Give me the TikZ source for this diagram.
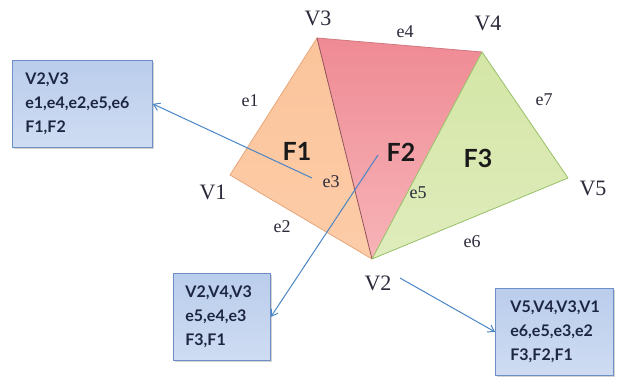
\documentclass[tikz,border=0pt]{standalone}
\usepackage{fontspec}
\setmainfont{Liberation Serif}
\newfontfamily\boxfont{Lato}
\usetikzlibrary{arrows.meta,shadows}
\definecolor{fone}{HTML}{FCCCA8}
\definecolor{fonetop}{HTML}{FBC49B}
\definecolor{ftwotop}{HTML}{EF8A94}
\definecolor{ftwobot}{HTML}{F7B4B8}
\definecolor{fthree}{HTML}{DFECBC}
\definecolor{fthreetop}{HTML}{D4E6A6}
\definecolor{eone}{HTML}{E6A77C}
\definecolor{etwo}{HTML}{D07880}
\definecolor{ethree}{HTML}{98C068}
\definecolor{boxtop}{HTML}{BACDEC}
\definecolor{boxbot}{HTML}{CFDCF2}
\definecolor{boxline}{HTML}{6C90C6}
\definecolor{boxtext}{HTML}{1C2642}
\definecolor{arrowc}{HTML}{4A86C5}
\definecolor{labc}{HTML}{2A2A3A}
\tikzset{
  vlab/.style={font=\fontsize{22}{22}\selectfont, text=labc, inner sep=0pt},
  elab/.style={font=\fontsize{18}{18}\selectfont, text=labc, inner sep=0pt},
  flab/.style={font=\boxfont\bfseries\fontsize{25}{25}\selectfont, text=black!90, inner sep=0pt},
  infobox/.style={draw=boxline, line width=0.8pt, top color=boxtop, bottom color=boxbot,
    drop shadow={shadow xshift=2pt, shadow yshift=-2pt, opacity=0.35},
    font=\boxfont\bfseries\fontsize{16}{24}\selectfont, text=boxtext, align=left,
    anchor=north west},
  linkarrow/.style={draw=arrowc, line width=1pt, -{Straight Barb[length=6pt,width=8pt]}}
}
\begin{document}
\begin{tikzpicture}[x=1pt,y=-1pt]
\useasboundingbox (0,0) rectangle (617,379);
% vertices
\coordinate (V1) at (230,175);
\coordinate (V2) at (372,259);
\coordinate (V3) at (317,38);
\coordinate (V4) at (482,52);
\coordinate (V5) at (568,178);
% faces
\shade[top color=fonetop, bottom color=fone] (V1) -- (V3) -- (V2) -- cycle;
\shade[top color=ftwotop, bottom color=ftwobot] (V3) -- (V4) -- (V2) -- cycle;
\shade[top color=fthreetop, bottom color=fthree] (V4) -- (V5) -- (V2) -- cycle;
\draw[eone, line width=0.8pt, line join=round] (V3) -- (V1) -- (V2);
\draw[etwo, line width=0.8pt] (V3) -- (V4);
\draw[etwo!70!black, line width=0.8pt] (V3) -- (V2);
\draw[ethree, line width=0.8pt, line join=round] (V4) -- (V5) -- (V2) -- cycle;
% vertex labels
\node[vlab] (lV1) at (213,192) {V1};
\node[vlab] (lV2) at (378,283) {V2};
\node[vlab] (lV3) at (318,18) {V3};
\node[vlab] (lV4) at (488,23) {V4};
\node[vlab] (lV5) at (593,188) {V5};
% edge labels
\node[elab] (le1) at (250,101) {e1};
\node[elab] (le2) at (282,227) {e2};
\node[elab] (le3) at (331,182) {e3};
\node[elab] (le4) at (405,32) {e4};
\node[elab] (le5) at (418,193) {e5};
\node[elab] (le6) at (472,242) {e6};
\node[elab] (le7) at (544,100) {e7};
% face labels
\node[flab] (lF1) at (297,151) {F1};
\node[flab] (lF2) at (401,152) {F2};
\node[flab] (lF3) at (478,158) {F3};
% boxes
\node[infobox, minimum width=140pt, minimum height=87pt, inner xsep=13pt, text width=114pt] (b1) at (12,60) {V2,V3\\e1,e4,e2,e5,e6\\F1,F2};
\node[infobox, minimum width=97pt, minimum height=87pt, inner xsep=12pt, text width=73pt] (b2) at (173,273) {V2,V4,V3\\e5,e4,e3\\F3,F1};
\node[infobox, minimum width=118pt, minimum height=87pt, inner xsep=15pt, text width=88pt] (b3) at (495,288) {V5,V4,V3,V1\\e6,e5,e3,e2\\F3,F2,F1};
% arrows
\coordinate (s1) at (312,178);
\coordinate (s2) at (378,155);
\coordinate (s3) at (400,278);
\draw[linkarrow] (s1) -- (b1.east);
\draw[linkarrow] (s2) -- (b2.east);
\draw[linkarrow] (s3) -- (b3.west);
\end{tikzpicture}
\end{document}
